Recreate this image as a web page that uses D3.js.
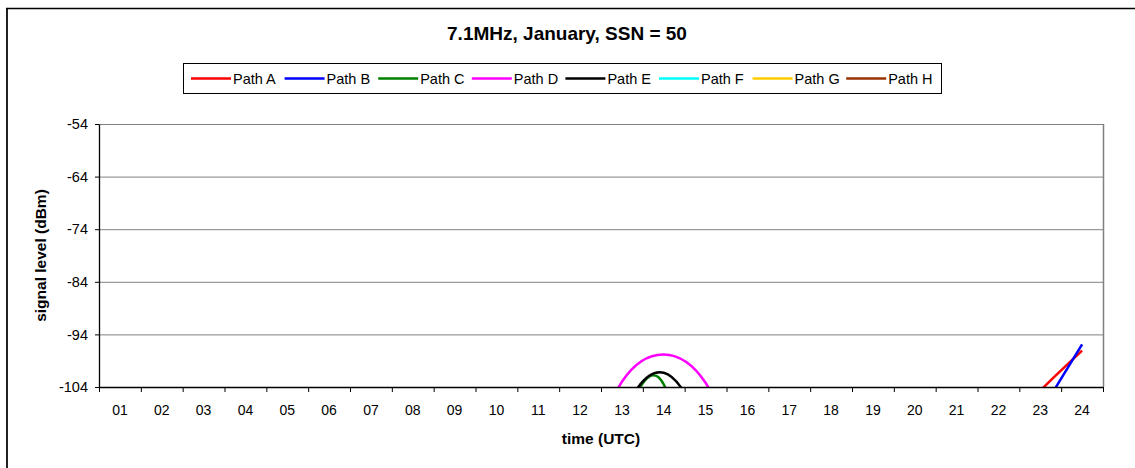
<!DOCTYPE html>
<html>
<head>
<meta charset="utf-8">
<script src="https://cdn.jsdelivr.net/npm/d3@7"></script>
<style>
	body { margin: 0; background: #fff; }
	svg { display: block; font-family: "Liberation Sans", Arial, sans-serif; }
</style>
</head>
<body>
<svg width="1135" height="468"></svg>
<script>
const hours = ["01", "02", "03", "04", "05", "06", "07", "08", "09", "10", "11", "12",
	"13", "14", "15", "16", "17", "18", "19", "20", "21", "22", "23", "24"];
const y_ticks = [-104, -94, -84, -74, -64, -54];
const path_names = ["Path A", "Path B", "Path C", "Path D", "Path E", "Path F", "Path G", "Path H"];
const colors = ["#ff0000", "#0000ff", "#008000", "#ff00ff", "#000000", "#00ffff", "#ffcc00", "#993300"];

// signal level per hour, dBm (values under -104 fall below the axis and are hidden)
const path_a = [-140, -140, -140, -140, -140, -140, -140, -140, -140, -140, -140, -140,
	-140, -140, -140, -140, -140, -140, -140, -140, -140, -113, -104.7, -97.1];
const path_b = [-140, -140, -140, -140, -140, -140, -140, -140, -140, -140, -140, -140,
	-140, -140, -140, -140, -140, -140, -140, -140, -140, -121.9, -108.9, -95.9];
const path_c = [-140, -140, -140, -140, -140, -140, -140, -140, -140, -140, -140, -140,
	-111.3, -103.5, -141.3, -140, -140, -140, -140, -140, -140, -140, -140, -140];
const path_d = [-140, -140, -140, -140, -140, -140, -140, -140, -140, -140, -140, -122,
	-103, -97.8, -103.2, -122, -140, -140, -140, -140, -140, -140, -140, -140];
const path_e = [-140, -140, -140, -140, -140, -140, -140, -140, -140, -140, -140, -140,
	-109.9, -101.3, -113.9, -145, -140, -140, -140, -140, -140, -140, -140, -140];
const path_f = [-140, -140, -140, -140, -140, -140, -140, -140, -140, -140, -140, -140,
	-140, -140, -140, -140, -140, -140, -140, -140, -140, -140, -140, -140];
const path_g = [-140, -140, -140, -140, -140, -140, -140, -140, -140, -140, -140, -140,
	-140, -140, -140, -140, -140, -140, -140, -140, -140, -140, -140, -140];
const path_h = [-140, -140, -140, -140, -140, -140, -140, -140, -140, -140, -140, -140,
	-140, -140, -140, -140, -140, -140, -140, -140, -140, -140, -140, -140];
const all_paths = [path_a, path_b, path_c, path_d, path_e, path_f, path_g, path_h];

const plot_left = 99, plot_right = 1103, plot_top = 124, plot_bottom = 387;
const svg = d3.select("svg");

const x_scale = d3.scaleBand().domain(hours).range([plot_left, plot_right]).padding(0);
const x_ticks_scale = d3.scaleLinear().domain([0, 24]).range([plot_left, plot_right]);
const y_scale = d3.scaleLinear().domain([-104, -54]).range([plot_bottom, plot_top]);

// chart border (only left and top visible)
svg.append("line").attr("x1", 7).attr("x2", 7).attr("y1", 8).attr("y2", 470)
	.attr("stroke", "#222").attr("stroke-width", 2);
svg.append("line").attr("x1", 6).attr("x2", 1135).attr("y1", 8.5).attr("y2", 8.5)
	.attr("stroke", "#000").attr("stroke-width", 1.5);

svg.append("text")
	.attr("x", 567).attr("y", 40)
	.attr("text-anchor", "middle")
	.attr("font-size", 19).attr("font-weight", "bold")
	.text("7.1MHz, January, SSN = 50");

// gridlines + plot border
y_ticks.slice(1).forEach((v) => {
	svg.append("line")
		.attr("x1", plot_left).attr("x2", plot_right)
		.attr("y1", y_scale(v) + 0.5).attr("y2", y_scale(v) + 0.5)
		.attr("stroke", "#808080").attr("stroke-width", 1);
});
svg.append("line").attr("x1", plot_right + 0.5).attr("x2", plot_right + 0.5).attr("y1", plot_top).attr("y2", plot_bottom)
	.attr("stroke", "#808080").attr("stroke-width", 1.5);

svg.append("clipPath").attr("id", "plot_clip")
	.append("rect").attr("x", plot_left).attr("y", plot_top - 2)
	.attr("width", plot_right - plot_left).attr("height", plot_bottom - plot_top + 2);

const line = d3.line()
	.x((d, i) => x_scale(hours[i]) + x_scale.bandwidth() / 2)
	.y((d) => y_scale(d))
	.curve(d3.curveCardinal.tension(0));

all_paths.forEach((values, i) => {
	svg.append("path")
		.attr("d", line(values))
		.attr("fill", "none")
		.attr("stroke", colors[i])
		.attr("stroke-width", 2.5)
		.attr("clip-path", "url(#plot_clip)");
});

// y axis
const y_axis = svg.append("g")
	.attr("transform", "translate(" + plot_left + ",0)")
	.call(d3.axisLeft(y_scale).tickValues(y_ticks).tickFormat((d) => String(d))
		.tickSize(4).tickPadding(7).tickSizeOuter(0));
y_axis.selectAll("text").attr("font-size", 14.5).attr("font-family", null).attr("fill", "#000");
y_axis.select(".domain").attr("stroke", "#000").attr("stroke-width", 1.3);

// x axis: marks between categories, labels at centres
const x_marks = svg.append("g")
	.attr("transform", "translate(0," + plot_bottom + ")")
	.call(d3.axisBottom(x_ticks_scale).tickValues(d3.range(0, 25)).tickFormat("").tickSize(5).tickSizeOuter(0));
x_marks.select(".domain").attr("stroke", "#000").attr("stroke-width", 1.3);

const x_labels = svg.append("g")
	.attr("transform", "translate(0," + plot_bottom + ")")
	.call(d3.axisBottom(x_scale).tickSize(0).tickPadding(18));
x_labels.select(".domain").remove();
x_labels.selectAll("text").attr("font-size", 14).attr("font-family", null).attr("fill", "#000");

svg.append("text")
	.attr("x", (plot_left + plot_right) / 2).attr("y", 444)
	.attr("text-anchor", "middle")
	.attr("font-size", 15.5).attr("font-weight", "bold")
	.text("time (UTC)");

svg.append("text")
	.attr("transform", "translate(46," + (plot_top + plot_bottom) / 2 + ") rotate(-90)")
	.attr("text-anchor", "middle")
	.attr("font-size", 15.5).attr("font-weight", "bold")
	.text("signal level (dBm)");

// legend
svg.append("rect")
	.attr("x", 183.5).attr("y", 63.5).attr("width", 758).attr("height", 30)
	.attr("fill", "#fff").attr("stroke", "#000").attr("stroke-width", 1);

path_names.forEach((name, i) => {
	const lx = 191 + i * 93.6;
	svg.append("line")
		.attr("x1", lx).attr("x2", lx + 40).attr("y1", 78.5).attr("y2", 78.5)
		.attr("stroke", colors[i]).attr("stroke-width", 2.5);
	svg.append("text")
		.attr("x", lx + 42).attr("y", 83.5)
		.attr("font-size", 14.5)
		.text(name);
});
</script>
</body>
</html>
